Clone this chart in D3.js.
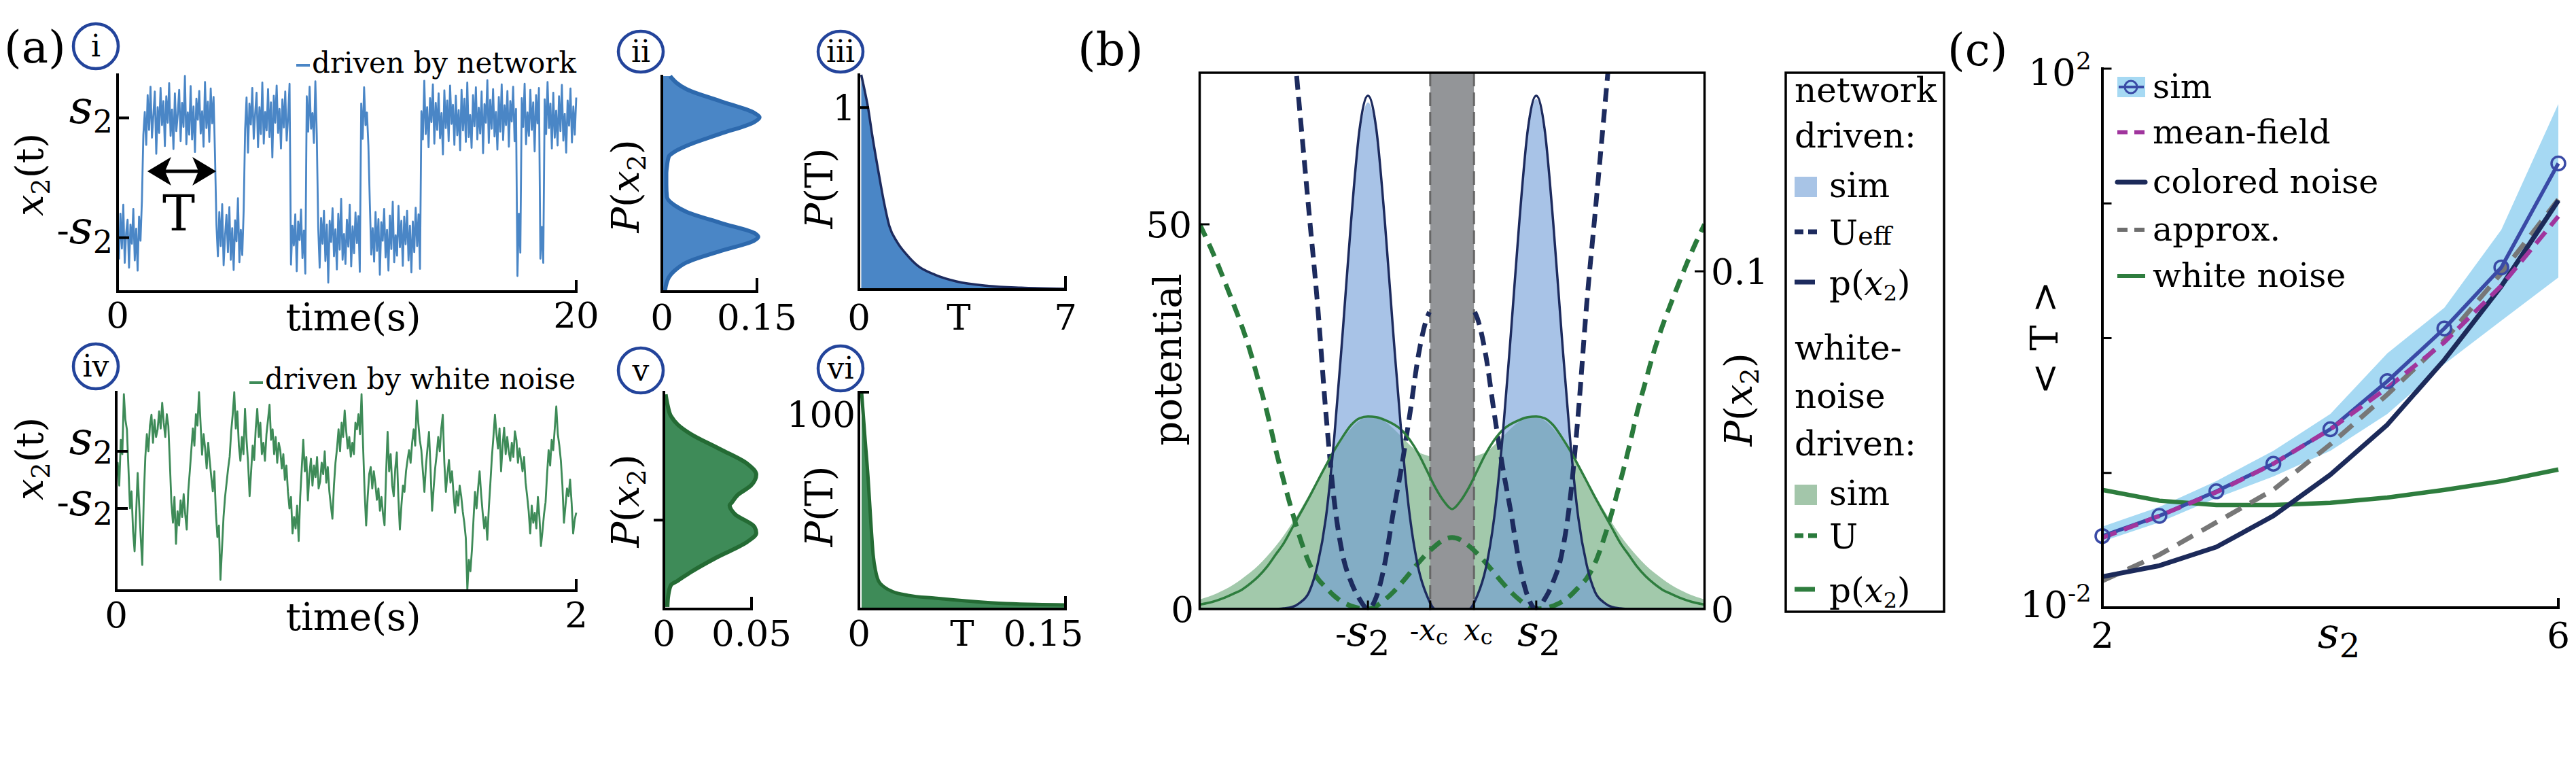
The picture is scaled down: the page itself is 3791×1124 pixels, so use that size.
<!DOCTYPE html>
<html>
<head>
<meta charset="utf-8">
<script src="https://cdn.jsdelivr.net/npm/d3@7/dist/d3.min.js"></script>
<style>
  body { margin: 0; background: #fff; }
  text { font-family: "DejaVu Serif", serif; fill: #000; }
</style>
</head>
<body>
<svg id="fig" width="3791" height="1124"></svg>
<script>
// ---------- values ----------

// (a) i : network driven trace. state flips between -s2 and s2 at these times (s)
const flipTimes = [1.08, 4.31, 5.56, 7.55, 8.23, 8.74, 10.6, 11.0, 13.2, 17.4, 17.6, 18.4, 18.6];
// fluctuation around the current state, in hundredths of s2
const netNoise = [12,-35,40,-18,55,-42,8,30,-50,22,-10,48,-38,15,-55,35,-5,62,-28,10,-45,38,-20,52,-33,5,44,-60,18,-25,
  50,-12,28,-47,36,-8,58,-30,14,-52,41,-22,6,47,-39,25,-15,70,-44,9,-28,53,-36,19,-57,32,-3,45,-26,11,
  -48,60,-17,27,-40,49,-9,35,-63,21,-31,43,-14,56,-46,3,38,-24,51,-37,16,-54,29,-6,66,-41,13,-29,46,-19,
  34,-58,24,-11,50,-35,7,42,-49,18,-27,59,-43,10,-21,48,-32,26,-66,37,-8,54,-25,15,-51,31,-16,44,-38,2,
  57,-45,20,-13,39,-56,27,-4,47,-34,12,-60,36,-23,52,-18,8,-42,61,-29,17,-50,33,-10,45,-39,22,-75,28,-7,
  49,-31,14,-53,40,-20,65,-37,6,-44,30,-15,55,-48,19,-26,42,-9,36,-57,24,-35,51,-12,9,-46,58,-28,16,-40,
  43,-22,31,-62,26,-5,48,-33,13,-55,37,-19,60,-41,4,-30,53,-16,28,-47,35,-11,45,-38,20,-58,27,-24,50,-14,
  39,-52,11,-36,62,-27,18,-49,33,-7,56,-43,25,-20,41,-34,8,-61,46,-17,29,-39,54,-10,22,-45,37,-29,13,-54,
  47,-21,32,-40,59,-32,5,-50,38,-14,51,-36,17,-26,44,-59,23,-8,63,-42,30,-18,48,-31,10,-53,35,-23,56,-37,
  21,-12,45,-48,28,-6,52,-39,15,-64,40,-25,33,-15,57,-44,9,-30,47,-20,26,-56,38,-9,50,-35,18,-42,31,-27,
  60,-17,24,-51,42,-33,12,-46,36,-22,55,-38,7,-58,29,-13,49,-41,19,-28,34];

// (a) iv : white noise driven trace over 0..2 s, in hundredths of s2
const whiteTrace = [10,60,-20,140,90,300,210,176,40,-100,-40,-180,-250,-120,24,-90,-200,-298,-60,80,
  160,100,190,228,130,210,150,176,240,180,270,200,150,230,190,60,-80,-150,-60,-224,
  -110,-160,-72,-130,-50,-120,-174,-40,30,105,180,120,230,190,307,200,88,160,110,40,
  130,67,10,-40,30,-114,-200,-160,-350,-240,-130,-60,-10,40,81,170,230,307,180,240,
  120,67,150,90,249,140,60,-57,30,120,70,180,249,150,200,90,130,67,160,210,
  263,140,177,90,150,60,130,104,40,90,0,50,-42,-100,-60,-188,-130,-170,-90,-214,
  -60,40,140,30,80,-72,20,74,-20,50,10,80,-30,-6,60,20,100,-10,45,-40,
  -90,-136,-20,60,110,177,100,200,150,243,170,110,150,81,130,90,200,177,230,160,
  300,120,-40,-160,-60,20,45,-30,30,-13,-70,-30,-108,-60,-120,-159,20,168,30,90,
  -20,-57,40,96,-60,-174,-90,-20,-42,30,70,104,60,130,177,120,278,200,140,104,
  30,-42,50,110,168,40,-108,-30,40,88,150,100,180,228,60,-42,20,70,-10,30,
  -50,-115,-40,-90,-20,-57,-110,-150,-203,-384,-280,-320,-245,-140,-42,-100,-30,30,-50,-115,
  -170,-130,-210,-100,-13,80,150,228,160,110,180,30,120,183,90,150,100,67,130,80,
  170,140,60,110,70,30,80,-10,-57,-110,-188,-90,-150,-115,-170,-60,-130,-232,-180,-120,
  -79,20,104,50,140,104,180,257,160,120,67,-20,-150,-90,-30,-57,1,-80,-188,-140,-115];

// (a) ii : P(x2), network driven
const distNetX = [1.72,1.50,1.30,1.10,1.03,0.95,0.75,0.55,0.45,0.37,0.20,0.09,-0.10,-0.31,-0.45,-0.56,-0.75,-0.93,-0.98,-1.04,-1.22,-1.41,-1.55,-1.66,-1.88];
const distNetP = [0.013,0.039,0.092,0.146,0.154,0.146,0.092,0.039,0.020,0.011,0.008,0.007,0.007,0.008,0.020,0.039,0.094,0.148,0.152,0.146,0.092,0.039,0.020,0.011,0.005];
// (a) iii : P(T), network driven
const dwellNetT = [0.08,0.2,0.31,0.45,0.67,0.85,1.03,1.3,1.63,2.0,2.6,3.3,4.4,5.5,7];
const dwellNetP = [1.18,1.09,1.0,0.85,0.64,0.48,0.35,0.26,0.19,0.13,0.08,0.045,0.02,0.01,0.004];
// (a) v : P(x2), white noise driven
const distWhiteX = [3.92,3.5,3.12,2.8,2.47,1.9,1.36,0.96,0.56,0.2,-0.09,-0.17,-0.5,-0.97,-1.2,-1.52,-2.1,-2.65,-2.95,-3.12,-3.5,-3.92];
const distWhiteP = [0.001,0.0022,0.004,0.008,0.015,0.032,0.0476,0.0527,0.0497,0.042,0.0385,0.0375,0.0405,0.0517,0.0527,0.0476,0.030,0.015,0.008,0.004,0.0025,0.002];
// (a) vi : P(T), white noise driven
const dwellWhiteT = [0.0022,0.0048,0.0074,0.0095,0.0116,0.0138,0.016,0.021,0.0276,0.04,0.062,0.09,0.12,0.1676];
const dwellWhiteP = [100,80,61,42,25,17,12.9,10,8,6.3,5,3.6,2.5,1.9];

// (b) : curves on x = -3 .. 3, step 0.1
const bX = d3.range(-30, 31).map(k => k / 10);
const netSim = [0,0,0,0,0,0,0,0,0,0,0.0003,0.0008,0.0022,0.0055,0.013,0.028,0.050,0.081,0.114,0.140,0.150,0.141,0.116,0.083,0.052,0.028,0.013,0.005,0.0008,0,
  0,
  0,0.0008,0.005,0.013,0.028,0.052,0.083,0.116,0.141,0.151,0.140,0.114,0.081,0.050,0.028,0.013,0.0055,0.0022,0.0008,0.0003,0,0,0,0,0,0,0,0,0,0];
const netP = [0,0,0,0,0,0,0,0,0,0,0.0002,0.0006,0.002,0.005,0.013,0.027,0.051,0.082,0.115,0.142,0.152,0.142,0.115,0.082,0.051,0.027,0.012,0.004,0,0,
  0,
  0,0,0.004,0.012,0.027,0.051,0.082,0.115,0.142,0.152,0.142,0.115,0.082,0.051,0.027,0.013,0.005,0.002,0.0006,0.0002,0,0,0,0,0,0,0,0,0,0];
const whiteSim = [0.0028,0.0036,0.0046,0.0058,0.0072,0.0089,0.0108,0.013,0.0156,0.0185,0.0218,0.0255,0.0295,0.0338,0.038,0.0423,0.0465,0.0503,0.0535,0.0558,0.0568,0.0566,0.0555,0.0535,0.051,0.0485,0.0465,0.0455,0.045,0.045,
  0.045,
  0.045,0.045,0.0455,0.0465,0.0485,0.051,0.0535,0.0555,0.0566,0.0568,0.0558,0.0535,0.0503,0.0465,0.0423,0.038,0.0338,0.0295,0.0255,0.0218,0.0185,0.0156,0.013,0.0108,0.0089,0.0072,0.0058,0.0046,0.0036,0.0028];
const whiteP = [0.0013,0.0018,0.0025,0.0034,0.0045,0.0057,0.0075,0.0097,0.0125,0.016,0.0195,0.024,0.0285,0.033,0.0378,0.0425,0.047,0.051,0.0545,0.0565,0.057,0.0568,0.056,0.0548,0.053,0.050,0.046,0.041,0.036,0.032,
  0.0296,
  0.032,0.036,0.041,0.046,0.050,0.053,0.0548,0.056,0.0568,0.057,0.0565,0.0545,0.051,0.047,0.0425,0.0378,0.033,0.0285,0.024,0.0195,0.016,0.0125,0.0097,0.0075,0.0057,0.0045,0.0034,0.0025,0.0018,0.0013];
const uWhite = [50,47.7,45.2,42.5,39.7,36.8,33.5,29.6,25.6,20.9,16.6,12.6,9.0,6.0,4.0,2.8,1.7,0.9,0.4,0.1,0.0,0.4,1.2,2.2,3.4,4.7,6.0,7.2,8.2,9.0,
  9.3,
  9.0,8.2,7.2,6.0,4.7,3.4,2.2,1.2,0.4,0.0,0.1,0.4,0.9,1.7,2.8,4.0,6.0,9.0,12.6,16.6,20.9,25.6,29.6,33.5,36.8,39.7,42.5,45.2,47.7,50];
const ueffRX = [0.27,0.3,0.4,0.5,0.6,0.7,0.8,0.9,1.0,1.1,1.2,1.3,1.4,1.5,1.6,1.7,1.8,1.87];
const ueffRV = [38.6,37.8,33,25.5,18.5,12.5,5.9,1.6,0,1.3,3.5,7,14,25.5,39.7,51.5,63.5,72];
const ueffLX = [-1.87,-1.8,-1.7,-1.6,-1.5,-1.4,-1.3,-1.2,-1.1,-1.0,-0.9,-0.8,-0.7,-0.6,-0.5,-0.4,-0.3,-0.27];
const ueffLV = [72,63.5,51.5,39.7,25.5,14,7,3.5,1.3,0,1.6,5.9,12.5,18.5,25.5,33,37.8,38.6];
const xc = 0.26;

// (c) : mean dwell time vs s2
const s2Vals = [2, 2.5, 3, 3.5, 4, 4.5, 5, 5.5, 6];
const tSim = [0.034, 0.048, 0.073, 0.117, 0.211, 0.479, 1.18, 3.35, 19.8];
const tSimHi = [0.040, 0.056, 0.087, 0.146, 0.274, 0.773, 1.68, 6.38, 54.7];
const tSimLo = [0.031, 0.043, 0.065, 0.094, 0.146, 0.274, 0.641, 1.35, 2.82];
const tMean = [0.033, 0.048, 0.072, 0.117, 0.211, 0.428, 0.933, 2.45, 8.02];
const tColored = [0.017, 0.0205, 0.0282, 0.048, 0.097, 0.228, 0.69, 2.43, 10.5];
const tApprox = [0.0158, 0.0247, 0.043, 0.075, 0.163, 0.382, 0.964, 3.04, 10.7];
const tWhite = [0.0748, 0.0622, 0.0578, 0.0578, 0.060, 0.0656, 0.0748, 0.0869, 0.106];

// ---------- drawing ----------
const svg = d3.select('#fig');
const C = {
  blue: '#4a86c6', blueEdge: '#2d69ad', green: '#3e8b58', greenEdge: '#246b34',
  navy: '#1d2b5e', ring: '#23449b', band: '#939598'
};

function seg(g, x1, y1, x2, y2, w, col) {
  return g.append('line')
    .attr('x1', x1).attr('y1', y1).attr('x2', x2).attr('y2', y2)
    .attr('stroke', col || '#000').attr('stroke-width', w || 4)
    .attr('stroke-linecap', 'square');
}

// text made of pieces: {t, it, size, dy}
function rich(g, x, y, parts, o) {
  o = o || {};
  const t = g.append('text')
    .attr('x', x).attr('y', y)
    .attr('text-anchor', o.anchor || 'start')
    .attr('font-size', o.size || 53);
  if (o.rotate) t.attr('transform', `rotate(${o.rotate},${x},${y})`);
  let shift = 0;
  parts.forEach(p => {
    const s = t.append('tspan').text(p.t);
    if (p.it) s.attr('font-style', 'italic');
    if (p.size) s.attr('font-size', p.size);
    const want = p.dy || 0;
    if (want !== shift) { s.attr('dy', want - shift); shift = want; }
  });
  return t;
}

function label(g, x, y, txt, size, anchor) {
  return g.append('text').attr('x', x).attr('y', y)
    .attr('text-anchor', anchor || 'middle').attr('font-size', size || 53).text(txt);
}

function ring(g, cx, cy, txt, ry) {
  g.append('ellipse').attr('cx', cx).attr('cy', cy).attr('rx', 33).attr('ry', ry || 33)
    .attr('fill', 'none').attr('stroke', C.ring).attr('stroke-width', 4.5);
  label(g, cx, cy + 15, txt, 44);
}

const s2Parts = (minus, sz, sub, dy) => (minus ? [{ t: '-', size: sz * 0.8 }] : [])
  .concat([{ t: 's', it: 1, size: sz }, { t: '2', size: sub, dy: dy }]);

// ===== (a) i =====
const gA = svg.append('g');
label(gA, 6, 92, '(a)', 66, 'start');

const xI = d3.scaleLinear().domain([0, 20]).range([173, 848]);
const yI = d3.scaleLinear().domain([-1.9, 1.72]).range([429, 110]);
const stateAt = t => flipTimes.filter(f => t >= f).length % 2 ? 1 : -1;
const netTrace = netNoise.map((n, i) => {
  const t = i * 20 / (netNoise.length - 1);
  return [t, stateAt(t) + n / 100];
});
gA.append('path').datum(netTrace)
  .attr('d', d3.line().x(d => xI(d[0])).y(d => yI(d[1])))
  .attr('fill', 'none').attr('stroke', C.blue).attr('stroke-width', 2.8)
  .attr('stroke-linejoin', 'round');

seg(gA, xI(0), yI(1.72), xI(0), yI(-1.9));
seg(gA, xI(0), yI(-1.9), xI(20), yI(-1.9));
seg(gA, xI(20), yI(-1.9), xI(20), yI(-1.9) - 15);
[1, -1].forEach(v => seg(gA, xI(0), yI(v), xI(0) + 15, yI(v)));
rich(gA, 166, yI(1) + 8, s2Parts(false, 68, 46, 14), { anchor: 'end' });
rich(gA, 166, yI(-1) + 8, s2Parts(true, 68, 46, 14), { anchor: 'end' });
label(gA, xI(0), 482, '0');
label(gA, xI(20), 482, '20');
label(gA, 520, 486, 'time(s)', 56);
rich(gA, 63, 257, [{ t: 'x', it: 1 }, { t: '2', size: 38, dy: 10 }, { t: '(t)', dy: 0 }],
  { anchor: 'middle', rotate: -90, size: 56 });

seg(gA, 438, 96, 454, 96, 4, C.blue);
label(gA, 459, 107, 'driven by network', 42, 'start');

// dwell-time arrow
const ay = 252;
seg(gA, xI(1.3) + 20, ay, xI(4.3) - 20, ay, 5);
gA.append('path').attr('fill', '#000')
  .attr('d', `M${xI(1.3)},${ay} L${xI(1.3) + 35},${ay - 21} L${xI(1.3) + 26},${ay} L${xI(1.3) + 35},${ay + 21} Z`);
gA.append('path').attr('fill', '#000')
  .attr('d', `M${xI(4.3)},${ay} L${xI(4.3) - 35},${ay - 21} L${xI(4.3) - 26},${ay} L${xI(4.3) - 35},${ay + 21} Z`);
label(gA, 263, 339, 'T', 72);
ring(gA, 141, 68, 'i');

// ===== (a) iv =====
const xIV = d3.scaleLinear().domain([0, 2]).range([171, 848]);
const yIV = d3.scaleLinear().domain([-3.88, 3.07]).range([869, 577]);
gA.append('path').datum(whiteTrace)
  .attr('d', d3.line().x((d, i) => xIV(i * 2 / (whiteTrace.length - 1))).y(d => yIV(d / 100)))
  .attr('fill', 'none').attr('stroke', C.green).attr('stroke-width', 2.8)
  .attr('stroke-linejoin', 'round');
seg(gA, xIV(0), yIV(3.07), xIV(0), yIV(-3.88));
seg(gA, xIV(0), yIV(-3.88), xIV(2), yIV(-3.88));
seg(gA, xIV(2), yIV(-3.88), xIV(2), yIV(-3.88) - 15);
[1, -1].forEach(v => seg(gA, xIV(0), yIV(v), xIV(0) + 15, yIV(v)));
rich(gA, 166, yIV(1) + 4, s2Parts(false, 68, 46, 14), { anchor: 'end' });
rich(gA, 166, yIV(-1) + 10, s2Parts(true, 68, 46, 14), { anchor: 'end' });
label(gA, xIV(0), 923, '0');
label(gA, xIV(2), 923, '2');
label(gA, 520, 927, 'time(s)', 56);
rich(gA, 63, 675, [{ t: 'x', it: 1 }, { t: '2', size: 38, dy: 10 }, { t: '(t)', dy: 0 }],
  { anchor: 'middle', rotate: -90, size: 56 });
seg(gA, 369, 563, 385, 563, 4, C.green);
label(gA, 390, 572, 'driven by white noise', 42, 'start');
ring(gA, 141, 539, 'iv');

// ===== (a) ii =====
const xII = d3.scaleLinear().domain([0, 0.15]).range([974, 1114]);
const yII = d3.scaleLinear().domain([-1.9, 1.72]).range([429, 112]);
const dII = distNetX.map((v, i) => [v, distNetP[i]]);
gA.append('path').datum(dII)
  .attr('d', d3.area().y(d => yII(d[0])).x0(xII(0)).x1(d => xII(d[1])).curve(d3.curveMonotoneY))
  .attr('fill', C.blue);
gA.append('path').datum(dII)
  .attr('d', d3.line().y(d => yII(d[0])).x(d => xII(d[1])).curve(d3.curveMonotoneY))
  .attr('fill', 'none').attr('stroke', C.blueEdge).attr('stroke-width', 6);
seg(gA, xII(0), yII(1.72), xII(0), yII(-1.9));
seg(gA, xII(0), yII(-1.9), xII(0.15), yII(-1.9));
seg(gA, xII(0.15), yII(-1.9), xII(0.15), yII(-1.9) - 18);
label(gA, xII(0), 485, '0');
label(gA, xII(0.15), 485, '0.15');
rich(gA, 940, 274, [{ t: 'P', it: 1 }, { t: '(' }, { t: 'x', it: 1 }, { t: '2', size: 38, dy: 10 }, { t: ')', dy: 0 }],
  { anchor: 'middle', rotate: -90, size: 56 });
ring(gA, 943, 76, 'ii', 30);

// ===== (a) iii =====
const xIII = d3.scaleLinear().domain([0, 7]).range([1264, 1568]);
const yIII = d3.scaleLinear().domain([0, 1.18]).range([426, 110]);
const dIII = dwellNetT.map((v, i) => [v, dwellNetP[i]]);
gA.append('path').datum(dIII)
  .attr('d', d3.area().x(d => xIII(d[0])).y0(yIII(0)).y1(d => yIII(d[1])).curve(d3.curveMonotoneX))
  .attr('fill', C.blue);
gA.append('path').datum(dIII)
  .attr('d', d3.line().x(d => xIII(d[0])).y(d => yIII(d[1])).curve(d3.curveMonotoneX))
  .attr('fill', 'none').attr('stroke', C.navy).attr('stroke-width', 3.5);
seg(gA, xIII(0), yIII(1.18), xIII(0), yIII(0));
seg(gA, xIII(0), yIII(0), xIII(7), yIII(0));
seg(gA, xIII(7), yIII(0), xIII(7), yIII(0) - 18);
seg(gA, xIII(0), yIII(1), xIII(0) + 13, yIII(1));
label(gA, 1259, yIII(1) + 19, '1', 53, 'end');
label(gA, xIII(0), 485, '0');
label(gA, 1411, 485, 'T');
label(gA, xIII(7), 485, '7');
rich(gA, 1225, 277, [{ t: 'P', it: 1 }, { t: '(T)' }], { anchor: 'middle', rotate: -90, size: 56 });
ring(gA, 1237, 76, 'iii', 30);

// ===== (a) v =====
const xV = d3.scaleLinear().domain([0, 0.05]).range([977, 1106]);
const yV = d3.scaleLinear().domain([-4, 4]).range([896, 577]);
const dV = distWhiteX.map((v, i) => [v, distWhiteP[i]]);
gA.append('path').datum(dV)
  .attr('d', d3.area().y(d => yV(d[0])).x0(xV(0)).x1(d => xV(d[1])).curve(d3.curveMonotoneY))
  .attr('fill', C.green);
gA.append('path').datum(dV)
  .attr('d', d3.line().y(d => yV(d[0])).x(d => xV(d[1])).curve(d3.curveMonotoneY))
  .attr('fill', 'none').attr('stroke', C.greenEdge).attr('stroke-width', 6);
seg(gA, xV(0), yV(4), xV(0), yV(-4));
seg(gA, xV(0), yV(-4), xV(0.05), yV(-4));
seg(gA, xV(0.05), yV(-4), xV(0.05), yV(-4) - 16);
seg(gA, xV(0) - 13, yV(-0.72), xV(0), yV(-0.72));
label(gA, xV(0), 950, '0');
label(gA, xV(0.05), 950, '0.05');
rich(gA, 940, 737, [{ t: 'P', it: 1 }, { t: '(' }, { t: 'x', it: 1 }, { t: '2', size: 38, dy: 10 }, { t: ')', dy: 0 }],
  { anchor: 'middle', rotate: -90, size: 56 });
ring(gA, 943, 545, 'v');

// ===== (a) vi =====
const xVI = d3.scaleLinear().domain([0, 0.168]).range([1264, 1568]);
const yVI = d3.scaleLinear().domain([0, 100]).range([896, 577]);
const dVI = dwellWhiteT.map((v, i) => [v, dwellWhiteP[i]]);
gA.append('path').datum(dVI)
  .attr('d', d3.area().x(d => xVI(d[0])).y0(yVI(0)).y1(d => yVI(d[1])).curve(d3.curveMonotoneX))
  .attr('fill', C.green);
gA.append('path').datum(dVI)
  .attr('d', d3.line().x(d => xVI(d[0])).y(d => yVI(d[1])).curve(d3.curveMonotoneX))
  .attr('fill', 'none').attr('stroke', C.greenEdge).attr('stroke-width', 5);
seg(gA, xVI(0), yVI(100), xVI(0), yVI(0));
seg(gA, xVI(0), yVI(0), xVI(0.168), yVI(0));
seg(gA, xVI(0.168), yVI(0), xVI(0.168), yVI(0) - 17);
seg(gA, xVI(0), yVI(100), xVI(0) + 13, yVI(100));
label(gA, 1259, 628, '100', 53, 'end');
label(gA, xVI(0), 950, '0');
label(gA, 1416, 950, 'T');
label(gA, xVI(0.15), 950, '0.15');
rich(gA, 1225, 745, [{ t: 'P', it: 1 }, { t: '(T)' }], { anchor: 'middle', rotate: -90, size: 56 });
ring(gA, 1237, 542, 'vi');

// ===== (b) =====
const gB = svg.append('g');
label(gB, 1586, 96, '(b)', 68, 'start');
const xB = d3.scaleLinear().domain([-3, 3]).range([1765.5, 2508.5]);
const uB = d3.scaleLinear().domain([0, 69.7]).range([896, 107]);
const pB = d3.scaleLinear().domain([0, 0.1588]).range([896, 107]);

gB.append('clipPath').attr('id', 'clipB').append('rect')
  .attr('x', xB(-3)).attr('y', uB(69.7)).attr('width', xB(3) - xB(-3)).attr('height', uB(0) - uB(69.7));
const plotB = gB.append('g').attr('clip-path', 'url(#clipB)');

const pArea = arr => d3.area().x((d, i) => xB(bX[i])).y0(pB(0)).y1(d => pB(d)).curve(d3.curveMonotoneX)(arr);
const pLine = arr => d3.line().x((d, i) => xB(bX[i])).y(d => pB(d)).curve(d3.curveMonotoneX)(arr);

plotB.append('path').attr('d', pArea(whiteSim)).attr('fill', 'rgb(100,165,115)').attr('fill-opacity', 0.6);
plotB.append('path').attr('d', pArea(netSim)).attr('fill', 'rgb(110,155,215)').attr('fill-opacity', 0.6);

plotB.append('rect').attr('x', xB(-xc)).attr('y', uB(69.7))
  .attr('width', xB(xc) - xB(-xc)).attr('height', uB(0) - uB(69.7)).attr('fill', C.band);
[-xc, xc].forEach(v => plotB.append('line')
  .attr('x1', xB(v)).attr('x2', xB(v)).attr('y1', uB(69.7)).attr('y2', uB(0))
  .attr('stroke', '#666').attr('stroke-width', 3).attr('stroke-dasharray', '20,9'));

plotB.append('path')
  .attr('d', d3.line().x((d, i) => xB(bX[i])).y(d => uB(d)).curve(d3.curveMonotoneX)(uWhite))
  .attr('fill', 'none').attr('stroke', '#2a7a3c').attr('stroke-width', 7).attr('stroke-dasharray', '20,12');
[[ueffLX, ueffLV], [ueffRX, ueffRV]].forEach(([xs, vs]) => plotB.append('path')
  .attr('d', d3.line().x((d, i) => xB(xs[i])).y(d => uB(d)).curve(d3.curveMonotoneX)(vs))
  .attr('fill', 'none').attr('stroke', C.navy).attr('stroke-width', 7).attr('stroke-dasharray', '20,11'));

plotB.append('path').attr('d', pLine(whiteP)).attr('fill', 'none').attr('stroke', '#2e7d3e').attr('stroke-width', 3.5);
plotB.append('path').attr('d', pLine(netP)).attr('fill', 'none').attr('stroke', C.navy).attr('stroke-width', 3.5);

gB.append('rect').attr('x', xB(-3)).attr('y', uB(69.7))
  .attr('width', xB(3) - xB(-3)).attr('height', uB(0) - uB(69.7))
  .attr('fill', 'none').attr('stroke', '#000').attr('stroke-width', 3.5);

seg(gB, xB(-3), uB(50), xB(-3) + 13, uB(50), 3);
seg(gB, xB(3) - 13, pB(0.1), xB(3), pB(0.1), 3);
[-1, -xc, xc, 1].forEach(v => seg(gB, xB(v), uB(0), xB(v), uB(0) - 11, 3));
label(gB, 1754, uB(50) + 19, '50', 53, 'end');
label(gB, 1757, uB(0) + 19, '0', 53, 'end');
label(gB, 2518, pB(0.1) + 19, '0.1', 53, 'start');
label(gB, 2518, pB(0) + 19, '0', 53, 'start');
rich(gB, xB(-1) - 8, 950, s2Parts(true, 62, 50, 14), { anchor: 'middle' });
rich(gB, xB(1) + 4, 950, s2Parts(false, 62, 50, 14), { anchor: 'middle' });
rich(gB, xB(-xc) - 2, 942, [{ t: '-', size: 40 }, { t: 'x', it: 1, size: 44 }, { t: 'c', size: 32, dy: 6 }], { anchor: 'middle' });
rich(gB, xB(xc) + 6, 942, [{ t: 'x', it: 1, size: 44 }, { t: 'c', size: 32, dy: 6 }], { anchor: 'middle' });
label(gB, 1738, 529, 'potential', 56).attr('transform', 'rotate(-90,1738,529)');
rich(gB, 2578, 588, [{ t: 'P', it: 1 }, { t: '(' }, { t: 'x', it: 1 }, { t: '2', size: 38, dy: 10 }, { t: ')', dy: 0 }],
  { anchor: 'middle', rotate: -90, size: 56 });

// legend (b)
gB.append('rect').attr('x', 2628).attr('y', 107).attr('width', 233).attr('height', 793)
  .attr('fill', 'none').attr('stroke', '#000').attr('stroke-width', 3.5);
const lx = 2641, tx = 2692;
label(gB, lx, 150, 'network', 50, 'start');
label(gB, lx, 217, 'driven:', 50, 'start');
gB.append('rect').attr('x', lx).attr('y', 260).attr('width', 33).attr('height', 30).attr('fill', '#a8c4e6');
label(gB, tx, 290, 'sim', 50, 'start');
gB.append('line').attr('x1', lx).attr('x2', lx + 33).attr('y1', 341).attr('y2', 341)
  .attr('stroke', C.navy).attr('stroke-width', 7).attr('stroke-dasharray', '13,7');
rich(gB, tx, 360, [{ t: 'U' }, { t: 'eff', size: 38 }], { size: 50 });
seg(gB, lx, 415, lx + 30, 415, 7, C.navy).attr('stroke-linecap', 'butt');
rich(gB, tx, 434, [{ t: 'p(' }, { t: 'x', it: 1 }, { t: '2', size: 32, dy: 8 }, { t: ')', dy: 0 }], { size: 50 });
label(gB, lx, 529, 'white-', 50, 'start');
label(gB, lx, 600, 'noise', 50, 'start');
label(gB, lx, 670, 'driven:', 50, 'start');
gB.append('rect').attr('x', lx).attr('y', 713).attr('width', 33).attr('height', 30).attr('fill', '#a3c6aa');
label(gB, tx, 743, 'sim', 50, 'start');
gB.append('line').attr('x1', lx).attr('x2', lx + 33).attr('y1', 788).attr('y2', 788)
  .attr('stroke', '#2a7a3c').attr('stroke-width', 7).attr('stroke-dasharray', '13,7');
label(gB, tx, 807, 'U', 50, 'start');
seg(gB, lx, 867, lx + 30, 867, 7, '#2e7d3e').attr('stroke-linecap', 'butt');
rich(gB, tx, 886, [{ t: 'p(' }, { t: 'x', it: 1 }, { t: '2', size: 32, dy: 8 }, { t: ')', dy: 0 }], { size: 50 });

// ===== (c) =====
const gC = svg.append('g');
label(gC, 2866, 96, '(c)', 66, 'start');
const xC = d3.scaleLinear().domain([2, 6]).range([3094, 3765]);
const yC = d3.scaleLog().domain([0.01, 100]).range([894, 101]);
const lineC = arr => d3.line().x((d, i) => xC(s2Vals[i])).y(d => yC(d))(arr);

gC.append('path')
  .attr('d', d3.area().x((d, i) => xC(s2Vals[i])).y0((d, i) => yC(tSimLo[i])).y1(d => yC(d))(tSimHi))
  .attr('fill', '#a6d9f3');
gC.append('path').attr('d', lineC(tWhite)).attr('fill', 'none').attr('stroke', '#2e7d3e').attr('stroke-width', 6.5);
gC.append('path').attr('d', lineC(tApprox)).attr('fill', 'none').attr('stroke', '#777').attr('stroke-width', 7)
  .attr('stroke-dasharray', '26,15');
gC.append('path').attr('d', lineC(tColored)).attr('fill', 'none').attr('stroke', '#1c2a5a').attr('stroke-width', 7)
  .attr('stroke-linejoin', 'round');
gC.append('path').attr('d', lineC(tSim)).attr('fill', 'none').attr('stroke', '#3a4aa6').attr('stroke-width', 5.5)
  .attr('stroke-linejoin', 'round');
gC.append('path').attr('d', lineC(tMean)).attr('fill', 'none').attr('stroke', '#a0359d').attr('stroke-width', 6.5)
  .attr('stroke-dasharray', '22,12');
gC.selectAll('circle.sim').data(tSim).join('circle').attr('class', 'sim')
  .attr('cx', (d, i) => xC(s2Vals[i])).attr('cy', d => yC(d)).attr('r', 10)
  .attr('fill', 'none').attr('stroke', '#3a4aa6').attr('stroke-width', 3.5);

seg(gC, xC(2), yC(100), xC(2), yC(0.01), 4);
seg(gC, xC(2), yC(0.01), xC(6), yC(0.01), 4);
seg(gC, xC(6), yC(0.01), xC(6), yC(0.01) - 12, 4);
[100, 10, 1, 0.1].forEach(v => seg(gC, xC(2), yC(v), xC(2) + 12, yC(v), 3));
rich(gC, 3078, 126, [{ t: '10' }, { t: '2', size: 36, dy: -24 }], { anchor: 'end', size: 55 });
rich(gC, 3078, 909, [{ t: '10' }, { t: '-2', size: 36, dy: -24 }], { anchor: 'end', size: 55 });
label(gC, xC(2), 953, '2');
label(gC, xC(6), 953, '6');
rich(gC, 3442, 953, s2Parts(false, 62, 48, 14), { anchor: 'middle' });
label(gC, 3028, 497, '< T >', 56).attr('transform', 'rotate(-90,3028,497)');

// legend (c)
const lc = [
  { y: 128, name: 'sim' }, { y: 194.5, name: 'mean-field' }, { y: 268, name: 'colored noise' },
  { y: 338, name: 'approx.' }, { y: 406, name: 'white noise' }
];
gC.append('rect').attr('x', 3116).attr('y', 113).attr('width', 41).attr('height', 30).attr('fill', '#a6d9f3');
seg(gC, 3118, 128, 3155, 128, 4, '#3a4aa6').attr('stroke-linecap', 'butt');
gC.append('circle').attr('cx', 3136).attr('cy', 128).attr('r', 9).attr('fill', 'none')
  .attr('stroke', '#3a4aa6').attr('stroke-width', 3);
gC.append('line').attr('x1', 3116).attr('x2', 3157).attr('y1', 194.5).attr('y2', 194.5)
  .attr('stroke', '#a0359d').attr('stroke-width', 6).attr('stroke-dasharray', '15,10');
seg(gC, 3116, 268, 3157, 268, 7, '#1c2a5a').attr('stroke-linecap', 'round');
gC.append('line').attr('x1', 3116).attr('x2', 3157).attr('y1', 338).attr('y2', 338)
  .attr('stroke', '#6e6e6e').attr('stroke-width', 6).attr('stroke-dasharray', '15,10');
seg(gC, 3116, 406, 3157, 406, 6, '#2e7d3e').attr('stroke-linecap', 'butt');
lc.forEach(d => label(gC, 3168, d.y + 16, d.name, 49, 'start'));
</script>
</body>
</html>
